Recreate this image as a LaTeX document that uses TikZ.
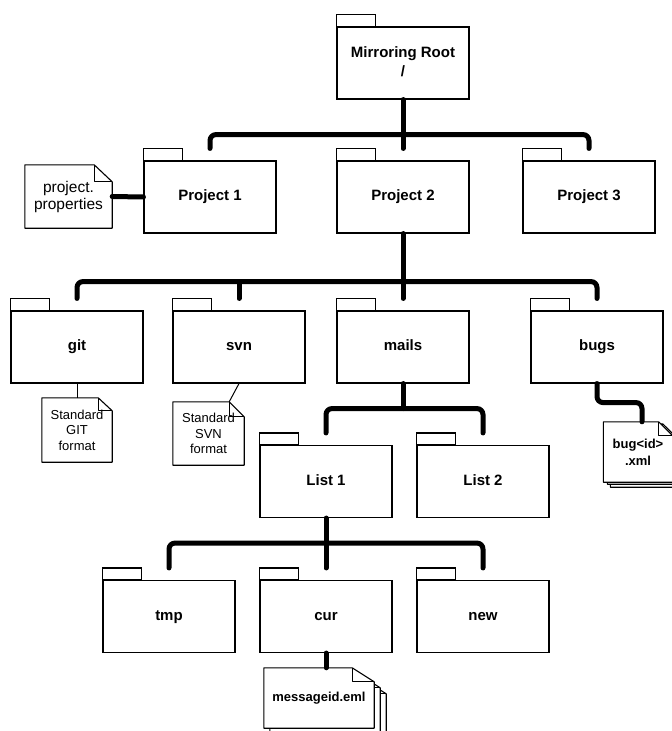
\documentclass[tikz,border=0pt]{standalone}
\usepackage{fontspec}
\setmainfont{Liberation Sans}
\usetikzlibrary{calc,backgrounds}

% document outline with a folded top-right corner:
% #1 node, #2/#3 fold width/height, #4/#5 offset of the sheet
\newcommand\dogear[5]{%
  \draw[docline,fill=white]
    ($(#1.south west)+(#4,#5)$) -- ($(#1.north west)+(#4,#5)$)
    -- ($(#1.north east)+(#4-#2,#5)$) -- ($(#1.north east)+(#4,#5+#3)$)
    -- ($(#1.south east)+(#4,#5)$) -- cycle;
  \draw[docline]
    ($(#1.north east)+(#4-#2,#5)$) -- ($(#1.north east)+(#4-#2,#5+#3)$)
    -- ($(#1.north east)+(#4,#5+#3)$);
}

\begin{document}
\begin{tikzpicture}[x=1pt,y=-1pt,
  folder/.style={draw,line width=1.1pt,fill=white,minimum width=132pt,
    minimum height=72pt,inner sep=0pt,align=center,
    font=\fontsize{15}{19.5}\selectfont\bfseries,
    execute at begin node=\vphantom{Pg}},
  tabline/.style={draw,line width=1.1pt,fill=white},
  docline/.style={line width=1.1pt,line join=round},
  doc/.style={inner sep=0pt,align=center,font=\fontsize{13}{15.5}\selectfont},
  bigdoc/.style={doc,font=\fontsize{15.5}{17}\selectfont},
  bolddoc/.style={doc,font=\fontsize{13}{17}\selectfont\bfseries},
  conn/.style={line width=5pt,line cap=round,line join=round,rounded corners=6pt},
  link/.style={line width=1pt}]

\useasboundingbox (0,0) rectangle (672,731);

% folders
\node[folder] (root)  at (403,63)    {Mirroring Root\\/};
\node[folder] (p1)    at (210,197)   {Project 1};
\node[folder] (p2)    at (403,197)   {Project 2};
\node[folder] (p3)    at (589,197)   {Project 3};
\node[folder] (git)   at (77,347)    {git};
\node[folder] (svn)   at (239,347)   {svn};
\node[folder] (mails) at (403,347)   {mails};
\node[folder] (bugs)  at (597,347)   {bugs};
\node[folder] (list1) at (326,481.5) {List 1};
\node[folder] (list2) at (483,481.5) {List 2};
\node[folder] (tmp)   at (169,616.5) {tmp};
\node[folder] (cur)   at (326,616.5) {cur};
\node[folder] (new)   at (483,616.5) {new};

\foreach \n in {root,p1,p2,p3,git,svn,mails,bugs,list1,list2,tmp,cur,new}
  \draw[tabline] (\n.north west) rectangle ++(39,-12);

% documents
\node[bigdoc,minimum width=87pt,minimum height=63pt] (props) at (68.5,196.5)
  {project.\\properties};
\node[doc,minimum width=70pt,minimum height=64pt] (gitnote) at (77,430)
  {Standard\\GIT\\format};
\node[doc,minimum width=71pt,minimum height=63pt] (svnnote) at (208.5,433.5)
  {Standard\\SVN\\format};
\node[bolddoc,minimum width=69pt,minimum height=60pt] (bugnote) at (638,452)
  {bug<id>\\.xml};
\node[bolddoc,minimum width=110pt,minimum height=60pt] (msgnote) at (319,698)
  {messageid.eml};

\begin{scope}[on background layer]
  \dogear{props}{18}{17}{0}{0}
  \dogear{gitnote}{14}{13}{0}{0}
  \dogear{svnnote}{15}{15}{0}{0}
  \dogear{bugnote}{14}{14}{7}{5}
  \dogear{bugnote}{14}{14}{4}{2}
  \dogear{bugnote}{14}{14}{0}{0}
  \dogear{msgnote}{22}{14}{12}{12}
  \dogear{msgnote}{22}{14}{6}{6}
  \dogear{msgnote}{22}{14}{0}{0}
\end{scope}

% tree connectors
\coordinate (b0) at ($(root.south)+(0,35)$);
\draw[conn] (root.south) -- (b0);
\draw[conn] ([yshift=12pt]p1.north) -- (p1.north |- b0) -- (p3.north |- b0)
  -- ([yshift=12pt]p3.north);
\draw[conn] (b0) -- ([yshift=12pt]p2.north);

\coordinate (b1) at ($(p2.south)+(0,48)$);
\draw[conn] (p2.south) -- (b1);
\draw[conn] ([yshift=12pt]git.north) -- (git.north |- b1) -- (bugs.north |- b1)
  -- ([yshift=12pt]bugs.north);
\draw[conn] (svn.north |- b1) -- ([yshift=12pt]svn.north);
\draw[conn] (b1) -- ([yshift=12pt]mails.north);

\coordinate (b2) at ($(mails.south)+(0,25)$);
\draw[conn] (mails.south) -- (b2);
\draw[conn] ([yshift=12pt]list1.north) -- (list1.north |- b2) -- (list2.north |- b2)
  -- ([yshift=12pt]list2.north);

\coordinate (b3) at ($(list1.south)+(0,25)$);
\draw[conn] (list1.south) -- (b3);
\draw[conn] ([yshift=12pt]tmp.north) -- (tmp.north |- b3) -- (new.north |- b3)
  -- ([yshift=12pt]new.north);
\draw[conn] (b3) -- ([yshift=12pt]cur.north);

% document connectors
\draw[conn] (props.east) -- (p1.west);
\draw[link] (git.south) -- (gitnote.north);
\draw[link] (svn.south) -- ([xshift=-15pt]svnnote.north east);
\draw[conn] (bugs.south) -- ++(0,19) -| ([xshift=4pt]bugnote.north);
\draw[conn] (cur.south) -- (cur.south |- msgnote.north);

\end{tikzpicture}
\end{document}
